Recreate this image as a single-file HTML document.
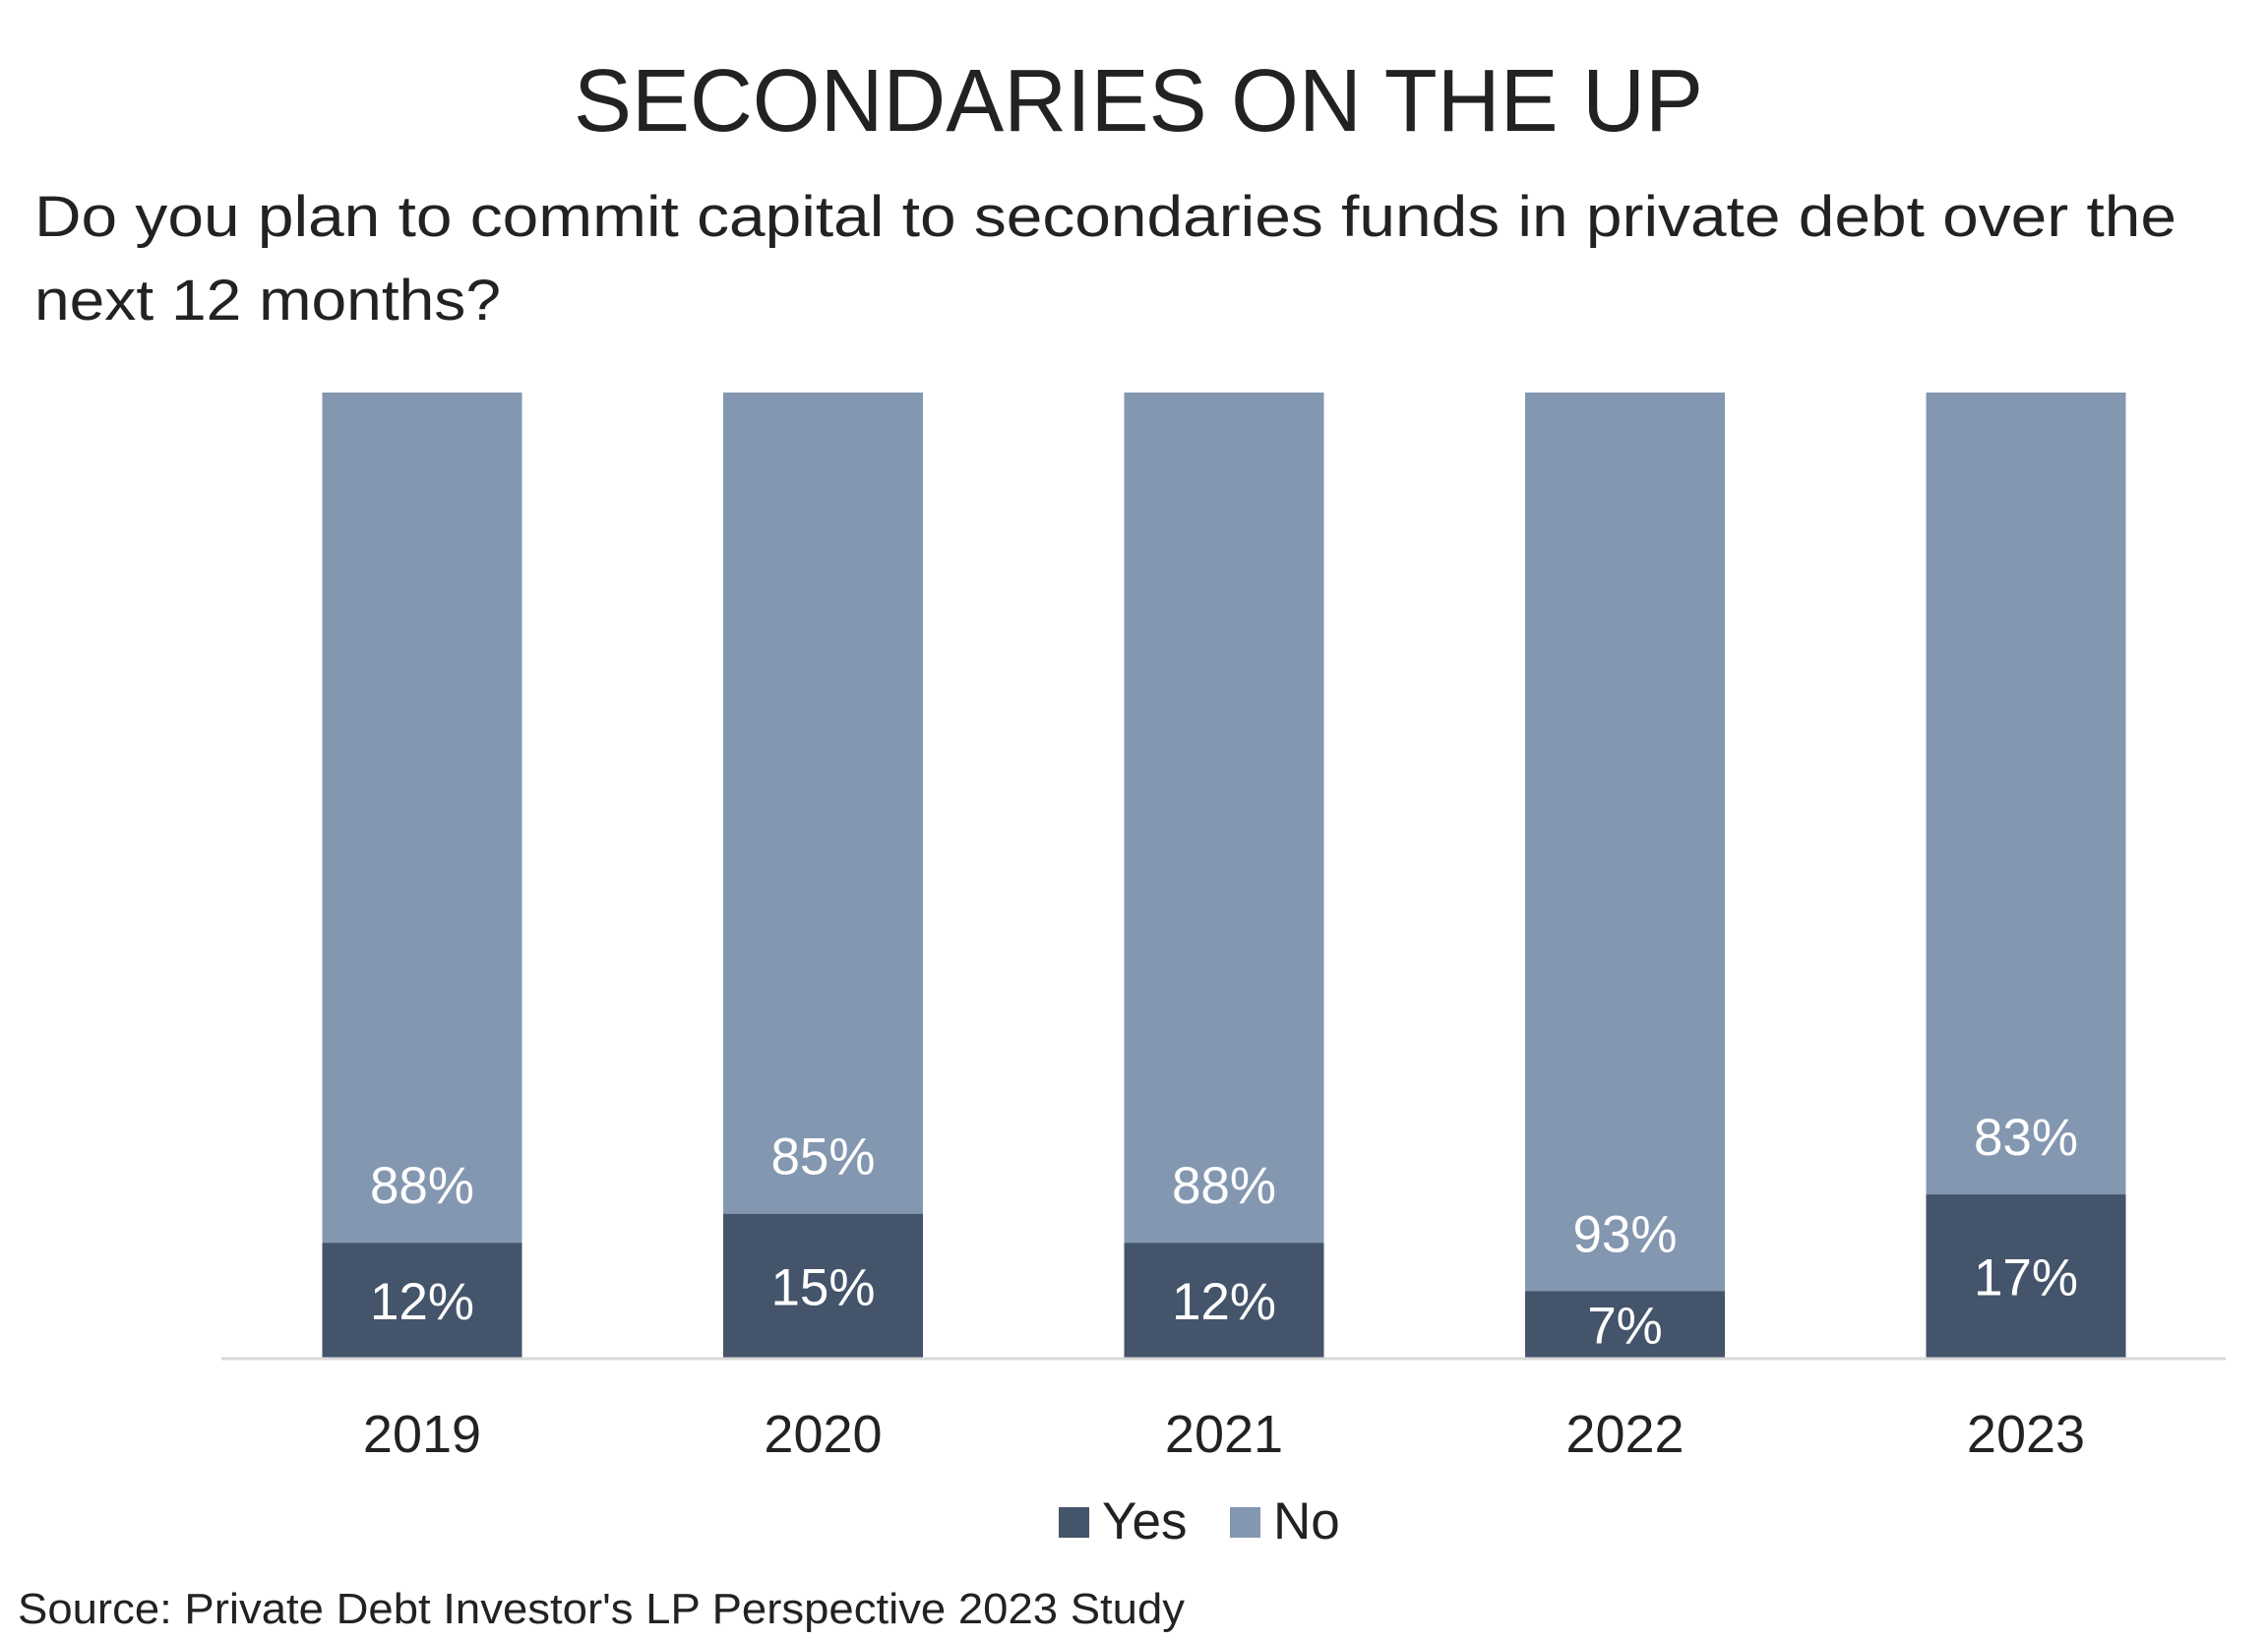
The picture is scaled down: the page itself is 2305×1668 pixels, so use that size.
<!DOCTYPE html>
<html><head><meta charset="utf-8"><style>
html,body{margin:0;padding:0;background:#fff;}
svg{display:block;font-family:"Liberation Sans",sans-serif;}
</style></head><body>
<svg id="chart" width="2305" height="1668" viewBox="0 0 2305 1668" xmlns="http://www.w3.org/2000/svg">
<text x="1157" y="133" font-size="90" fill="#222" text-anchor="middle" textLength="1148" lengthAdjust="spacingAndGlyphs">SECONDARIES ON THE UP</text>
<text x="35" y="240" font-size="58" fill="#222" textLength="2177" lengthAdjust="spacingAndGlyphs">Do you plan to commit capital to secondaries funds in private debt over the</text>
<text x="35" y="325" font-size="58" fill="#222" textLength="474" lengthAdjust="spacingAndGlyphs">next 12 months?</text>
<g id="bars"></g>
<line x1="225" y1="1381" x2="2262" y2="1381" stroke="#d9d9d9" stroke-width="3"/>
<g>
<rect x="1076" y="1532" width="31" height="31" fill="#44546a"/>
<text x="1120" y="1564" font-size="53" fill="#222">Yes</text>
<rect x="1250" y="1532" width="31" height="31" fill="#8497b0"/>
<text x="1294" y="1564" font-size="53" fill="#222">No</text>
</g>
<text x="18" y="1650" font-size="44" fill="#222" textLength="1186" lengthAdjust="spacingAndGlyphs">Source: Private Debt Investor's LP Perspective 2023 Study</text>
</svg>
<script>
const categories = ["2019","2020","2021","2022","2023"];
const yesValues = [12,15,12,7,17];
const noValues = [88,85,88,93,83];

const NS = "http://www.w3.org/2000/svg";
const g = document.getElementById("bars");
const x0 = 429, step = 241.0 * 0 + 407.5, barW = 203;
const yBase = 1381, yTop = 399;
function xScale(i){ return x0 + i*step; }
function yScale(v){ return yBase - (v/100)*(yBase - yTop); }
function mk(tag, attrs){ const e=document.createElementNS(NS,tag); for(const k in attrs) e.setAttribute(k, attrs[k]); return e; }

categories.forEach((c,i)=>{
  const cx = xScale(i);
  const yes = yesValues[i], no = noValues[i];
  const yYes = yScale(yes), yNo = yScale(yes+no);
  const rNo = mk("rect",{x:cx-barW/2,y:yNo,width:barW,height:yYes-yNo,fill:"#8497b0"});
  
  
  g.appendChild(rNo);
  const rYes = mk("rect",{x:cx-barW/2,y:yYes,width:barW,height:yBase-yYes,fill:"#44546a"});
  
  
  g.appendChild(rYes);
  const tYes = mk("text",{x:cx,y:(yYes+yBase)/2+19,"font-size":53,fill:"#fff","text-anchor":"middle"});
  tYes.textContent = yes+"%";
  
  
  g.appendChild(tYes);
  const tNo = mk("text",{x:cx,y:yYes-40,"font-size":53,fill:"#fff","text-anchor":"middle"});
  tNo.textContent = no+"%";
  
  
  g.appendChild(tNo);
  const tc = mk("text",{x:cx,y:1476,"font-size":54,fill:"#222","text-anchor":"middle"});
  tc.textContent = c;
  
  
  g.appendChild(tc);
});
</script>
</body></html>
